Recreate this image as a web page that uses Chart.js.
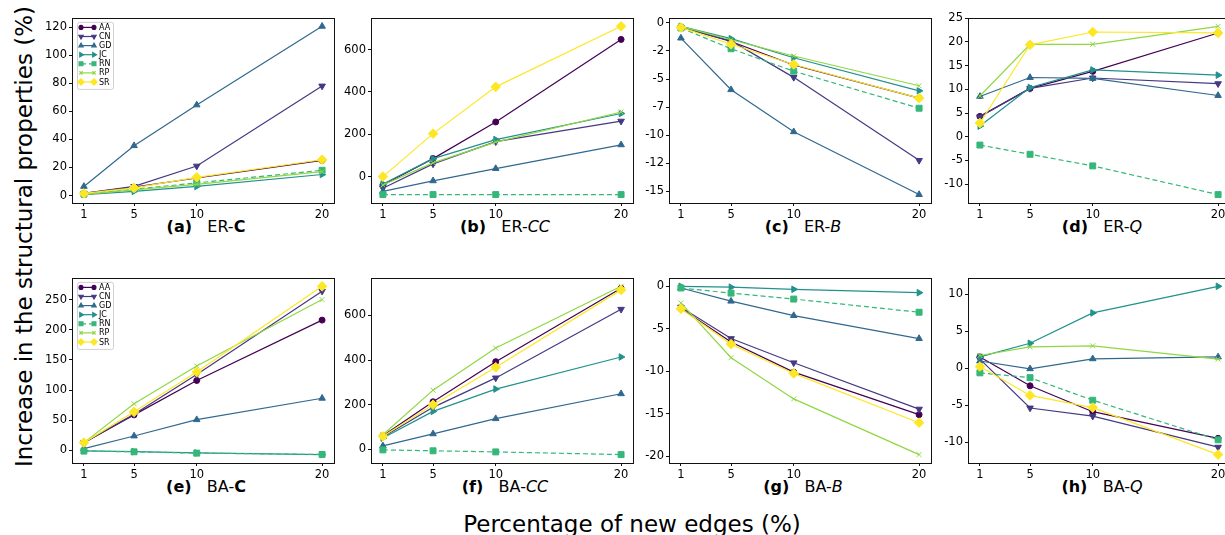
<!DOCTYPE html>
<html>
<head>
<meta charset="utf-8">
<script src="https://cdn.jsdelivr.net/npm/chart.js@4.4.0/dist/chart.umd.min.js"></script>
<style>
  html, body { margin: 0; padding: 0; background: #fff; overflow: hidden; }
  body { width: 1225px; height: 535px; position: relative; font-family: 'DejaVu Sans', sans-serif; color: #000; }
  canvas { position: absolute; }
  .title { position: absolute; width: 262px; text-align: center; font-size: 16px; line-height: 20px; white-space: pre; }
  .title i { font-style: oblique; }
  .ylab { position: absolute; left: -206px; top: 224px; width: 460px; height: 26px; line-height: 26px;
          font-size: 23px; text-align: center; white-space: nowrap; transform: rotate(-90deg); }
  .xlab { position: absolute; left: 432px; top: 511px; width: 400px; line-height: 26px;
          font-size: 23px; text-align: center; white-space: nowrap; }
</style>
</head>
<body>
<div class="ylab">Increase in the structural properties (%)</div>
<div class="xlab">Percentage of new edges (%)</div>

<script>
// percentage of new edges
const X_PCT = [1, 5, 10, 20];
const METHODS = ['AA', 'CN', 'GD', 'JC', 'RN', 'RP', 'SR'];

// one row per method, same order as METHODS
const ER_C = [
  [1.5, 6, 12.5, 25],
  [1.5, 6.5, 21, 78],
  [6.5, 35.5, 64.5, 120.5],
  [0.7, 3, 6.5, 15],
  [1, 4.5, 9, 18],
  [0.8, 4, 8, 17],
  [1.5, 5.5, 13, 25.5]
];
const ER_CC = [
  [-40, 85, 258, 648],
  [-55, 60, 165, 262],
  [-70, -20, 38, 150],
  [-35, 85, 175, 298],
  [-85, -85, -85, -85],
  [-40, 65, 163, 305],
  [0, 203, 424, 710]
];
const ER_B = [
  [-0.35, -1.65, -3.75, -6.7],
  [-0.4, -1.6, -4.85, -12.25],
  [-1.35, -5.95, -9.7, -15.3],
  [-0.3, -1.4, -3.1, -6.05],
  [-0.45, -2.3, -4.3, -7.6],
  [-0.3, -1.5, -2.95, -5.6],
  [-0.4, -1.9, -3.7, -6.7]
];
const ER_Q = [
  [4.3, 10.2, 13.8, 21.9],
  [4.2, 10.2, 12.4, 11.2],
  [8.5, 12.5, 12.3, 8.7],
  [2.25, 10.4, 14.1, 13.0],
  [-1.75, -3.7, -6.15, -12.2],
  [8.6, 19.5, 19.5, 23.3],
  [2.9, 19.4, 22.1, 21.9]
];
const BA_C = [
  [13, 59, 116, 216],
  [13, 60, 126, 264],
  [3, 24, 51, 86.5],
  [-0.5, -2, -4, -6.8],
  [-1, -2.2, -4.4, -6.6],
  [13, 77.5, 140, 250],
  [13, 64, 130, 272]
];
const BA_CC = [
  [60, 213, 393, 722],
  [55, 188, 320, 628],
  [15, 69, 137, 249],
  [50, 170, 270, 414],
  [-3, -7, -12, -24],
  [65, 265, 454, 731],
  [58, 200, 368, 715]
];
const BA_B = [
  [-2.6, -6.55, -10.1, -15.1],
  [-2.45, -6.15, -9.0, -14.45],
  [-0.2, -1.75, -3.45, -6.15],
  [0, -0.1, -0.35, -0.75],
  [-0.2, -0.8, -1.5, -3.05],
  [-1.95, -8.4, -13.25, -19.8],
  [-2.65, -6.8, -10.25, -16.05]
];
const BA_Q = [
  [1.5, -2.4, -5.9, -9.5],
  [1.2, -5.4, -6.5, -10.7],
  [0.95, -0.1, 1.25, 1.5],
  [1.5, 3.35, 7.45, 11.05],
  [-0.65, -1.3, -4.35, -9.7],
  [1.7, 2.85, 3.0, 1.2],
  [0.2, -3.7, -5.35, -11.7]
];

// y tick values per panel
const TICKS_ER_C = [0, 20, 40, 60, 80, 100, 120];
const TICKS_ER_CC = [0, 200, 400, 600];
const TICKS_ER_B = [0, -2.5, -5, -7.5, -10, -12.5, -15];
const TICKS_ER_Q = [-10, -5, 0, 5, 10, 15, 20, 25];
const TICKS_BA_C = [0, 50, 100, 150, 200, 250];
const TICKS_BA_CC = [0, 200, 400, 600];
const TICKS_BA_B = [0, -5, -10, -15, -20];
const TICKS_BA_Q = [-10, -5, 0, 5, 10];

// styles (viridis, 7 steps)
const COLORS = ['#440154', '#443983', '#31688e', '#21918c', '#35b779', '#90d743', '#fde725'];
const MARKERS = [
  { style: 'circle', rot: 0, r: 3 },
  { style: 'triangle', rot: 180, r: 3.8 },
  { style: 'triangle', rot: 0, r: 3.8 },
  { style: 'triangle', rot: 90, r: 3.8 },
  { style: 'rect', rot: 0, r: 4.2 },
  { style: 'crossRot', rot: 0, r: 3.5 },
  { style: 'rectRot', rot: 0, r: 4.8 }
];

const COL_LEFT = [72, 371, 669, 968];
const ROW_TOP = [17, 277];
const PW = 262, PH = 186;
const PAD_L = 60, PAD_T = 8, PAD_R = 20, PAD_B = 30;
const FONT = "'DejaVu Sans', sans-serif";

const panels = [
  { data: ER_C, ticks: TICKS_ER_C, col: 0, row: 0, legend: true, title: '<b>(a)</b>   ER-<b>C</b>' },
  { data: ER_CC, ticks: TICKS_ER_CC, col: 1, row: 0, title: '<b>(b)</b>   ER-<i>CC</i>' },
  { data: ER_B, ticks: TICKS_ER_B, col: 2, row: 0, title: '<b>(c)</b>   ER-<i>B</i>' },
  { data: ER_Q, ticks: TICKS_ER_Q, col: 3, row: 0, title: '<b>(d)</b>   ER-<i>Q</i>' },
  { data: BA_C, ticks: TICKS_BA_C, col: 0, row: 1, legend: true, title: '<b>(e)</b>   BA-<b>C</b>' },
  { data: BA_CC, ticks: TICKS_BA_CC, col: 1, row: 1, title: '<b>(f)</b>   BA-<i>CC</i>' },
  { data: BA_B, ticks: TICKS_BA_B, col: 2, row: 1, title: '<b>(g)</b>   BA-<i>B</i>' },
  { data: BA_Q, ticks: TICKS_BA_Q, col: 3, row: 1, title: '<b>(h)</b>   BA-<i>Q</i>' }
];

// box round the plot area, like matplotlib spines
const framePlugin = {
  id: 'frame',
  afterDatasetsDraw(chart) {
    const { ctx, chartArea: a } = chart;
    ctx.save();
    ctx.strokeStyle = '#111';
    ctx.lineWidth = 1;
    ctx.strokeRect(Math.round(a.left) + 0.5, Math.round(a.top) + 0.5,
      Math.round(a.right - a.left), Math.round(a.bottom - a.top));
    ctx.restore();
  }
};

function marker(ctx, ds, x, y, scale) {
  const opts = { pointStyle: ds.pointStyle, rotation: ds.pointRotation, radius: ds.pointRadius * scale, borderWidth: 1 };
  if (Chart.helpers && Chart.helpers.drawPoint) {
    Chart.helpers.drawPoint(ctx, opts, x, y);
  } else {
    ctx.beginPath(); ctx.arc(x, y, opts.radius, 0, Math.PI * 2); ctx.fill();
  }
}

// legend inside the plot, top left
const boxLegend = {
  id: 'boxLegend',
  afterDraw(chart) {
    const { ctx, chartArea: a } = chart;
    const x0 = a.left + 5, y0 = a.top + 4;
    const w = 36, h = 67, step = 9.1;
    ctx.save();
    ctx.fillStyle = 'rgba(255,255,255,0.85)';
    ctx.strokeStyle = '#d0d0d0';
    ctx.lineWidth = 1;
    ctx.beginPath();
    if (ctx.roundRect) ctx.roundRect(x0 + 0.5, y0 + 0.5, w, h, 2); else ctx.rect(x0 + 0.5, y0 + 0.5, w, h);
    ctx.fill(); ctx.stroke();
    chart.data.datasets.forEach((ds, i) => {
      const y = y0 + 5.5 + i * step;
      ctx.strokeStyle = ds.borderColor;
      ctx.fillStyle = ds.pointBackgroundColor;
      ctx.lineWidth = 1.2;
      ctx.setLineDash(ds.borderDash || []);
      ctx.beginPath(); ctx.moveTo(x0 + 4, y); ctx.lineTo(x0 + 17, y); ctx.stroke();
      ctx.setLineDash([]);
      marker(ctx, ds, x0 + 4, y, 0.65);
      marker(ctx, ds, x0 + 17, y, 0.65);
      ctx.fillStyle = '#000';
      ctx.font = '8px ' + FONT;
      ctx.textBaseline = 'middle';
      ctx.fillText(ds.label, x0 + 22, y + 0.5);
    });
    ctx.restore();
  }
};

panels.forEach(p => {
  const left = COL_LEFT[p.col], top = ROW_TOP[p.row];

  const t = document.createElement('div');
  t.className = 'title';
  t.style.left = (left + 3) + 'px';
  t.style.top = (top + PH + 13.5) + 'px';
  t.innerHTML = p.title;
  document.body.appendChild(t);

  const cv = document.createElement('canvas');
  cv.width = PW + PAD_L + PAD_R;
  cv.height = PH + PAD_T + PAD_B;
  cv.style.left = (left - PAD_L) + 'px';
  cv.style.top = (top - PAD_T) + 'px';
  document.body.appendChild(cv);

  // matplotlib style 5% margins
  const all = p.data.flat();
  const lo = Math.min(...all), hi = Math.max(...all);
  const m = (hi - lo) * 0.05;

  const datasets = METHODS.map((name, i) => ({
    label: name,
    data: X_PCT.map((x, j) => ({ x: x, y: p.data[i][j] })),
    borderColor: COLORS[i],
    backgroundColor: COLORS[i],
    pointBackgroundColor: COLORS[i],
    pointBorderColor: COLORS[i],
    borderWidth: 1.2,
    borderDash: name === 'RN' ? [5, 3] : [],
    pointStyle: MARKERS[i].style,
    pointRotation: MARKERS[i].rot,
    pointRadius: MARKERS[i].r,
    pointBorderWidth: 1,
    tension: 0,
    order: METHODS.length - 1 - i
  }));

  const tickFont = { family: FONT, size: 11.5 };
  new Chart(cv, {
    type: 'line',
    data: { datasets },
    options: {
      responsive: false,
      animation: false,
      devicePixelRatio: 1,
      layout: { padding: { left: 0, top: PAD_T, right: PAD_R, bottom: 0 } },
      plugins: { legend: { display: false }, tooltip: { enabled: false } },
      scales: {
        x: {
          type: 'linear', min: 0.05, max: 20.95,
          afterBuildTicks: s => { s.ticks = X_PCT.map(v => ({ value: v })); },
          afterFit: s => { s.height = PAD_B; },
          grid: { drawOnChartArea: false, tickLength: 3, color: '#111' },
          border: { display: false },
          ticks: { font: tickFont, color: '#000', padding: 2, maxRotation: 0, autoSkip: false }
        },
        y: {
          type: 'linear', min: lo - m, max: hi + m,
          afterBuildTicks: s => { s.ticks = p.ticks.map(v => ({ value: v })); },
          afterFit: s => { s.width = PAD_L; },
          grid: { drawOnChartArea: false, tickLength: 3, color: '#111' },
          border: { display: false },
          ticks: { font: tickFont, color: '#000', padding: 2, autoSkip: false,
                   callback: v => String(Math.trunc(v)) }
        }
      }
    },
    plugins: p.legend ? [framePlugin, boxLegend] : [framePlugin]
  });
});
</script>
</body>
</html>
